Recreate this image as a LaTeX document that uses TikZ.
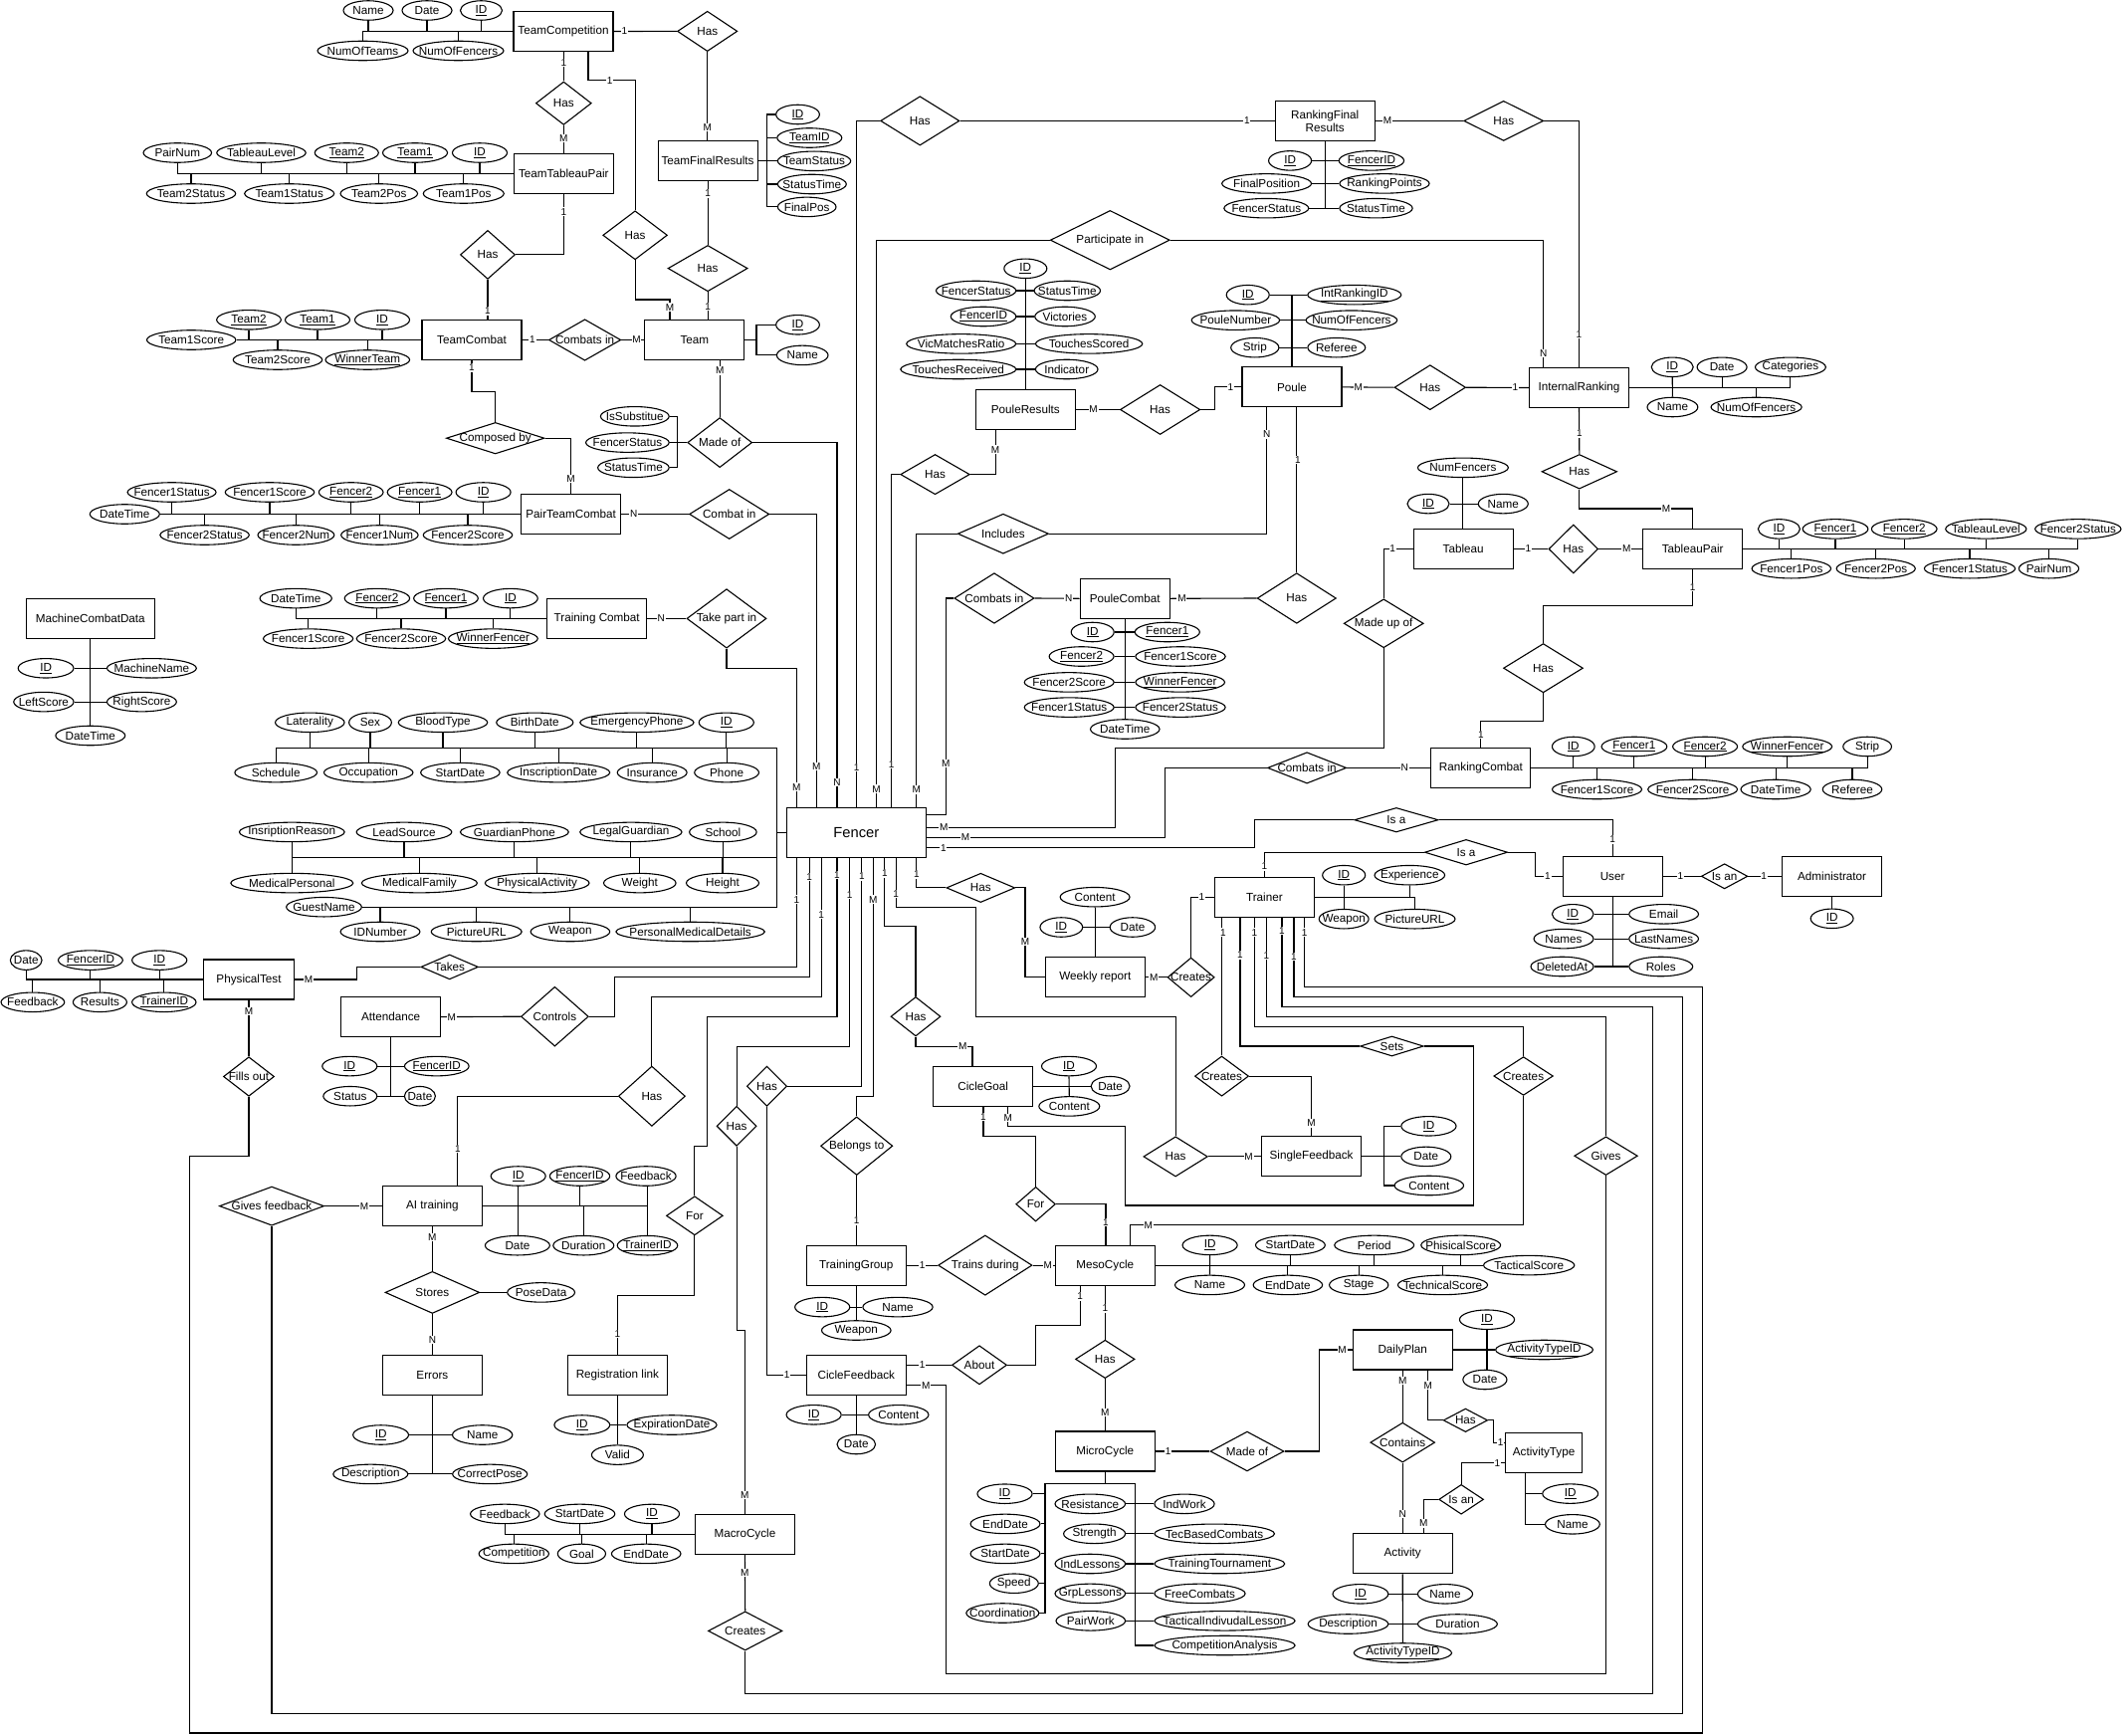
\documentclass[tikz,border=0pt]{standalone}
\usepackage{fontspec}
\setmainfont{Liberation Sans}
\usetikzlibrary{shapes.geometric}
\newcounter{cardn}
\tikzset{
 ent/.style={draw,rectangle,minimum width=100pt,minimum height=40pt,inner sep=0pt,font=\fontsize{11.7}{13}\selectfont,align=center,fill=white},
 attr/.style={draw,ellipse,minimum height=19.5pt,inner sep=0pt,fill=white},
 rel/.style={draw,diamond,inner sep=0pt,fill=white},
 lbl/.style={inner sep=0pt,font=\fontsize{11.7}{13}\selectfont},
 card/.style={fill=white,inner sep=0.8pt,font=\fontsize{10}{11}\selectfont},
}
\newcommand\ent[5][]{\node[ent,#1] (#2) at (#3,#4) {#5};}
\newcommand\att[5]{\node[attr,minimum width=#4pt] (#1) at (#2,#3) {};\node[lbl] (#1-t) at (#2,#3) {#5};}
\newcommand\rel[6]{\node[rel,minimum width=#4pt,minimum height=#5pt] (#1) at (#2,#3) {};\node[lbl] (#1-t) at (#2,#3) {#6};}
\newcommand\card[3]{\stepcounter{cardn}\node[card] (k\arabic{cardn}) at (#1,#2) {#3};}
\newcommand\ky[1]{\underline{#1}}
\newcommand\up[2]{\draw (#1.south) -- (#1.south |- #2);}
\newcommand\dn[2]{\draw (#1.north) -- (#1.north |- #2);}
\begin{document}
\begin{tikzpicture}[x=1pt,y=-1pt,line width=1.1pt]
\fill[white] (0,0) rectangle (2132,1744);
\useasboundingbox (0,0) rectangle (2132,1744);

% ---------- entities ----------
\ent{tcomp}{566}{31.5}{TeamCompetition}
\ent{ttp}{566.3}{174.4}{TeamTableauPair}
\ent{tcomb}{474}{341.5}{TeamCombat}
\ent{ptc}{573.6}{516.5}{PairTeamCombat}
\ent{tfr}{711.1}{161.8}{TeamFinalResults}
\ent{team}{697.9}{341.5}{Team}
\ent{trc}{599.7}{621.4}{Training Combat}
\ent[minimum width=128.5pt]{mcd}{90.8}{621.4}{MachineCombatData}
\ent[minimum width=140.5pt,minimum height=50pt,font=\fontsize{14.7}{16}\selectfont]{fencer}{860.3}{836.5}{Fencer}
\ent{rfr}{1331.2}{121.4}{RankingFinal\\Results}
\ent{pres}{1030.3}{411.5}{PouleResults}
\ent{poule}{1298}{388.9}{Poule}
\ent{ir}{1586.5}{389.5}{InternalRanking}
\ent{tab}{1470.2}{551.5}{Tableau}
\ent{tp}{1700.7}{551.5}{TableauPair}
\ent[minimum width=90.3pt]{pc}{1130.2}{601.3}{PouleCombat}
\ent{rc}{1487.9}{771.4}{RankingCombat}
\ent{user}{1620.1}{880.3}{User}
\ent{admin}{1840.6}{880.3}{Administrator}
\ent{trainer}{1270.4}{901.2}{Trainer}
\ent{wr}{1100.3}{981.8}{Weekly report}
\ent[minimum width=90.3pt]{ptest}{250}{984}{PhysicalTest}
\ent{attd}{392.6}{1021.6}{Attendance}
\ent{cg}{987.7}{1091.2}{CicleGoal}
\ent{sf}{1317.6}{1161.9}{SingleFeedback}
\ent{ai}{434.4}{1211.6}{AI training}
\ent{errors}{434.4}{1381.2}{Errors}
\ent{rl}{620.4}{1381.2}{Registration link}
\ent{tg}{860.3}{1271.1}{TrainingGroup}
\ent{meso}{1110.3}{1271.1}{MesoCycle}
\ent{cf}{860.3}{1381.2}{CicleFeedback}
\ent{macro}{748.4}{1541.3}{MacroCycle}
\ent{micro}{1110.3}{1458}{MicroCycle}
\ent{dp}{1409.2}{1356}{DailyPlan}
\ent[minimum width=76.4pt]{atype}{1551.1}{1459.2}{ActivityType}
\ent{act}{1409.2}{1560.9}{Activity}

% ---------- relationships ----------
\rel{r1}{710.7}{31.4}{60.3}{40.3}{Has}
\rel{r2}{566.3}{103.7}{55.8}{43.3}{Has}
\rel{r3}{638.1}{236.3}{64.7}{49}{Has}
\rel{r4}{711.1}{269.6}{80}{46.3}{Has}
\rel{r5}{490}{255.9}{55}{49}{Has}
\rel{r6}{587.6}{341.5}{72.3}{41.4}{Combats in}
\rel{r7}{497.7}{440.2}{98.6}{31.5}{Composed by}
\rel{r8}{723.2}{444.6}{64.8}{50}{Made of}
\rel{r9}{732.7}{516.5}{80.2}{50}{Combat in}
\rel{r10}{730}{621.4}{80}{59.4}{Take part in}
\rel{r11}{924.3}{121.4}{79.3}{49.3}{Has}
\rel{r12}{1115.3}{241.2}{120}{59.5}{Participate in}
\rel{r13}{1510.7}{121.4}{80}{40}{Has}
\rel{r14}{939.5}{476.6}{69.6}{40.2}{Has}
\rel{r15}{1165.6}{411.5}{80.3}{50}{Has}
\rel{r16}{1436.8}{389.2}{71.6}{45}{Has}
\rel{r17}{1007.9}{536.2}{91.3}{40}{Includes}
\rel{r18}{998.9}{601}{80.2}{50.6}{Combats in}
\rel{r19}{1302.8}{601}{79.2}{50.6}{Has}
\rel{r20}{1390.2}{626.3}{80}{48.9}{Made up of}
\rel{r21}{1586.8}{473.8}{75.6}{34.6}{Has}
\rel{r22}{1580.8}{551.5}{49.6}{49}{Has}
\rel{r23}{1550.5}{671.2}{79.9}{49.3}{Has}
\rel{r24}{1313.1}{771.4}{79.2}{31.3}{Combats in}
\rel{r25}{1402.9}{823.7}{84.3}{24.5}{Is a}
\rel{r26}{1473}{856.2}{83.3}{25.6}{Is a}
\rel{r27}{1732.6}{880.3}{46.6}{25.2}{Is an}
\rel{r28}{1196.6}{981.8}{47.1}{39.5}{Creates}
\rel{r29}{985.3}{891.9}{68.8}{29.3}{Has}
\rel{r30}{451.7}{971.4}{57.5}{24.9}{Takes}
\rel{r31}{557.4}{1021.2}{67.8}{59.8}{Controls}
\rel{r32}{250}{1081.5}{51}{39.5}{Fills out}
\rel{r33}{654.9}{1101.2}{67.1}{60.3}{Has}
\rel{r34}{770.5}{1091.2}{40.3}{40.3}{Has}
\rel{r35}{740.1}{1131.3}{40}{40}{Has}
\rel{r36}{697.9}{1221.3}{56.8}{39.1}{For}
\rel{r37}{920}{1021.2}{50}{39.5}{Has}
\rel{r38}{860.7}{1151.2}{72.3}{58.6}{Belongs to}
\rel{r39}{1040.6}{1209.7}{39.6}{34.6}{For}
\rel{r40}{1181.1}{1161.9}{64.4}{40.2}{Has}
\rel{r41}{1227.5}{1081.1}{54.1}{40.2}{Creates}
\rel{r42}{1398.4}{1051}{63.7}{20}{Sets}
\rel{r43}{1530.6}{1081}{59.6}{38.7}{Creates}
\rel{r44}{1613.5}{1161.2}{63.6}{38.7}{Gives}
\rel{r45}{273}{1211.6}{105.1}{39.1}{Gives feedback}
\rel{r46}{434.4}{1298.4}{94.7}{42.1}{Stores}
\rel{r47}{989.8}{1271.1}{94.4}{60.3}{Trains during}
\rel{r48}{984}{1371.3}{55.1}{39.1}{About}
\rel{r49}{1110.3}{1365.4}{59.5}{38.4}{Has}
\rel{r50}{1253}{1458}{74}{39.8}{Made of}
\rel{r51}{1409.2}{1449.1}{64.8}{39.9}{Contains}
\rel{r52}{1472.4}{1426.8}{44.4}{23.5}{Has}
\rel{r53}{1468.1}{1506.3}{44.8}{29.8}{Is an}
\rel{r54}{748.7}{1638.4}{74.4}{39.1}{Creates}

% ---------- attributes ----------
% TeamCompetition
\att{tc1}{370}{10.5}{50}{Name}
\att{tc2}{429}{10.5}{50}{Date}
\att{tc3}{483.5}{10.5}{42}{\ky{ID}}
\att{tc4}{364.5}{51}{91}{NumOfTeams}
\att{tc5}{460.5}{51}{91}{NumOfFencers}
\draw (tcomp.west) -- (tc4.north |- tcomp.west) -- (tc4.north);
\up{tc1}{tcomp.west}\up{tc2}{tcomp.west}\up{tc3}{tcomp.west}\dn{tc5}{tcomp.west}
% TeamTableauPair
\att{tt1}{178.3}{153.5}{68.5}{PairNum}
\att{tt2}{262.5}{153.5}{89.5}{TableauLevel}
\att{tt3}{348.3}{153.5}{64}{\ky{Team2}}
\att{tt4}{417}{153.5}{65}{\ky{Team1}}
\att{tt5}{482}{153.5}{55}{\ky{ID}}
\att{tt6}{192}{194.5}{89.5}{Team2Status}
\att{tt7}{290.7}{194.5}{90}{Team1Status}
\att{tt8}{380.8}{194.5}{77.5}{Team2Pos}
\att{tt9}{465.8}{194.5}{81}{Team1Pos}
\draw (ttp.west) -- (tt1.south |- ttp.west) -- (tt1.south);
\up{tt2}{ttp.west}\up{tt3}{ttp.west}\up{tt4}{ttp.west}\up{tt5}{ttp.west}
\dn{tt6}{ttp.west}\dn{tt7}{ttp.west}\dn{tt8}{ttp.west}\dn{tt9}{ttp.west}
% TeamCombat
\att{cb1}{250}{321.3}{64.7}{\ky{Team2}}
\att{cb2}{319}{321.3}{65}{\ky{Team1}}
\att{cb3}{384}{321.3}{55}{\ky{ID}}
\att{cb4}{192.2}{341.5}{89.5}{Team1Score}
\att{cb5}{279}{361.5}{89.5}{Team2Score}
\att{cb6}{369.3}{361.5}{84.6}{\ky{WinnerTeam}}
\draw (tcomb.west) -- (cb4.east);
\up{cb1}{tcomb.west}\up{cb2}{tcomb.west}\up{cb3}{tcomb.west}\dn{cb5}{tcomb.west}\dn{cb6}{tcomb.west}
% PairTeamCombat
\att{pa1}{172.6}{494.5}{89}{Fencer1Status}
\att{pa2}{271}{494.5}{89.5}{Fencer1Score}
\att{pa3}{352.7}{494.5}{64.7}{\ky{Fencer2}}
\att{pa4}{421.6}{494.5}{64.8}{\ky{Fencer1}}
\att{pa5}{485.6}{494.5}{55}{\ky{ID}}
\att{pa6}{125.3}{516.5}{70}{DateTime}
\att{pa7}{205.6}{537.5}{89.5}{Fencer2Status}
\att{pa8}{297.4}{537.5}{76.8}{Fencer2Num}
\att{pa9}{381.4}{537.5}{77.5}{Fencer1Num}
\att{pa10}{470}{537.5}{89.5}{Fencer2Score}
\draw (ptc.west) -- (pa6.east);
\up{pa1}{ptc.west}\up{pa2}{ptc.west}\up{pa3}{ptc.west}\up{pa4}{ptc.west}\up{pa5}{ptc.west}
\dn{pa7}{ptc.west}\dn{pa8}{ptc.west}\dn{pa9}{ptc.west}\dn{pa10}{ptc.west}
% TeamFinalResults
\att{tf1}{801.5}{115}{43.7}{\ky{ID}}
\att{tf2}{813.3}{138.5}{65}{\ky{TeamID}}
\att{tf3}{818}{161.8}{73.4}{TeamStatus}
\att{tf4}{815.8}{185}{69}{StatusTime}
\att{tf5}{810.7}{207.9}{58.6}{FinalPos}
\draw (tfr.east) -- (tf3.west);
\draw (tf1.west) -- (tf1.west -| 770.4,0) -- (tf5.west -| 770.4,0) -- (tf5.west);
\draw (tf2.west) -- (tf2.west -| 770.4,0);
\draw (tf4.west) -- (tf4.west -| 770.4,0);
% Team
\att{tm1}{801.5}{326.3}{43.7}{\ky{ID}}
\att{tm2}{806.2}{356.9}{51.6}{Name}
\draw (team.east) -- (team.east -| 760,0);
\draw (tm1.west) -- (tm1.west -| 760,0) -- (tm2.west -| 760,0) -- (tm2.west);
% Made of
\att{mo1}{637.8}{418.3}{68.8}{IsSubstitue}
\att{mo2}{630.4}{444.6}{83.7}{FencerStatus}
\att{mo3}{636.4}{469.8}{71.6}{StatusTime}
\draw (r8.west) -- (mo2.east);
\draw (mo1.east) -- (mo1.east -| 680.5,0) -- (mo3.east -| 680.5,0) -- (mo3.east);
% RankingFinalResults
\att{rf1}{1296.1}{161.4}{43}{\ky{ID}}
\att{rf2}{1377.9}{161.4}{65.4}{\ky{FencerID}}
\att{rf3}{1272.6}{184.4}{90}{FinalPosition}
\att{rf4}{1391}{184.4}{90.2}{RankingPoints}
\att{rf5}{1272.3}{209.2}{85}{FencerStatus}
\att{rf6}{1382.5}{209.2}{73.3}{StatusTime}
\draw (rfr.south) -- (rfr.south |- rf5.east);
\draw (rf1.east) -- (rf2.west); \draw (rf3.east) -- (rf4.west); \draw (rf5.east) -- (rf6.west);
% Poule
\att{po1}{1253.7}{296.2}{43}{\ky{ID}}
\att{po2}{1360.8}{296.2}{94}{\ky{IntRankingID}}
\att{po3}{1241.4}{321.7}{88.5}{PouleNumber}
\att{po4}{1357.9}{321.7}{91.6}{NumOfFencers}
\att{po5}{1260.8}{349.2}{48.2}{Strip}
\att{po6}{1342.8}{349.2}{57.9}{Referee}
\draw (poule.north) -- (poule.north |- po1.east);
\draw (po1.east) -- (po2.west); \draw (po3.east) -- (po4.west); \draw (po5.east) -- (po6.west);
% PouleResults
\att{pr0}{1030.3}{269.8}{43}{\ky{ID}}
\att{pr1}{980.6}{292}{80.3}{FencerStatus}
\att{pr2}{1072.3}{292}{66.5}{StatusTime}
\att{pr3}{988}{318}{65.5}{\ky{FencerID}}
\att{pr4}{1070}{318}{60.6}{Victories}
\att{pr5}{965.7}{345.4}{110}{VicMatchesRatio}
\att{pr6}{1094.1}{345.4}{107.4}{TouchesScored}
\att{pr7}{962.8}{371}{116}{TouchesReceived}
\att{pr8}{1071.7}{371}{62.6}{Indicator}
\draw (pr0.south) -- (pres.north);
\draw (pr1.east) -- (pr2.west); \draw (pr3.east) -- (pr4.west);
\draw (pr5.east) -- (pr6.west); \draw (pr7.east) -- (pr8.west);
% InternalRanking
\att{ir1}{1680.2}{368.8}{42}{\ky{ID}}
\att{ir2}{1730.1}{368.8}{50}{Date}
\att{ir3}{1798.9}{368.8}{70.9}{Categories}
\att{ir4}{1680.4}{409}{50.8}{Name}
\att{ir5}{1764.6}{409}{91.2}{NumOfFencers}
\draw (ir.east) -- (ir3.south |- ir.east) -- (ir3.south);
\draw (ir1.south) -- (ir4.north);
\up{ir2}{ir.east}\dn{ir5}{ir.east}
% Tableau
\att{ta1}{1469.9}{469.8}{91}{NumFencers}
\att{ta2}{1435}{506.1}{42}{\ky{ID}}
\att{ta3}{1510.3}{506.1}{50}{Name}
\draw (ta1.south) -- (ta1.south |- tab.north);
\draw (ta2.east) -- (ta3.west);
% TableauPair
\att{tq1}{1787.4}{531.4}{42}{\ky{ID}}
\att{tq2}{1844}{531.4}{65.7}{\ky{Fencer1}}
\att{tq3}{1913.2}{531.4}{65.7}{\ky{Fencer2}}
\att{tq4}{1995.3}{531.4}{81.2}{TableauLevel}
\att{tq5}{2087.8}{531.4}{86.4}{Fencer2Status}
\att{tq6}{1799.8}{571.2}{79.5}{Fencer1Pos}
\att{tq7}{1884.7}{571.2}{79.2}{Fencer2Pos}
\att{tq8}{1979}{571.2}{91.3}{Fencer1Status}
\att{tq9}{2058.5}{571.2}{60.2}{PairNum}
\draw (tp.east) -- (tq5.south |- tp.east) -- (tq5.south);
\up{tq1}{tp.east}\up{tq2}{tp.east}\up{tq3}{tp.east}\up{tq4}{tp.east}
\dn{tq6}{tp.east}\dn{tq7}{tp.east}\dn{tq8}{tp.east}\dn{tq9}{tp.east}
% RankingCombat
\att{rq1}{1580.8}{750}{42.7}{\ky{ID}}
\att{rq2}{1641.9}{750}{65.7}{\ky{Fencer1}}
\att{rq3}{1713.1}{750}{65}{\ky{Fencer2}}
\att{rq4}{1795.7}{750}{89.9}{\ky{WinnerFencer}}
\att{rq5}{1876.1}{750}{48.7}{Strip}
\att{rq6}{1604.5}{793}{90}{Fencer1Score}
\att{rq7}{1700.6}{793}{89.9}{Fencer2Score}
\att{rq8}{1784.1}{793}{70.2}{DateTime}
\att{rq9}{1861}{793}{59.5}{Referee}
\draw (rc.east) -- (rq5.south |- rc.east) -- (rq5.south);
\up{rq1}{rc.east}\up{rq2}{rc.east}\up{rq3}{rc.east}\up{rq4}{rc.east}
\dn{rq6}{rc.east}\dn{rq7}{rc.east}\dn{rq8}{rc.east}\dn{rq9}{rc.east}
% PouleCombat
\att{pq1}{1097.7}{635}{43}{\ky{ID}}
\att{pq2}{1172.8}{635}{65.1}{\ky{Fencer1}}
\att{pq3}{1086.6}{659.5}{65}{\ky{Fencer2}}
\att{pq4}{1186}{659.5}{90.3}{Fencer1Score}
\att{pq5}{1074.2}{685.4}{90}{Fencer2Score}
\att{pq6}{1185.7}{685.4}{89.6}{\ky{WinnerFencer}}
\att{pq7}{1074.2}{710.6}{90}{Fencer1Status}
\att{pq8}{1186}{710.6}{90.3}{Fencer2Status}
\att{pq9}{1130.3}{732.5}{69.5}{DateTime}
\draw (pc.south) -- (pc.south |- pq9.north);
\draw (pq1.east) -- (pq2.west); \draw (pq3.east) -- (pq4.west);
\draw (pq5.east) -- (pq6.west); \draw (pq7.east) -- (pq8.west);
% User
\att{us1}{1580.2}{918.3}{41.6}{\ky{ID}}
\att{us2}{1671.6}{918.3}{69.8}{Email}
\att{us3}{1571}{943.1}{59.9}{Names}
\att{us4}{1671.6}{943.1}{69.8}{LastNames}
\att{us5}{1569.5}{971}{63}{DeletedAt}
\att{us6}{1668.7}{971}{63.9}{Roles}
\draw (user.south) -- (user.south |- us5.east);
\draw (us1.east) -- (us2.west); \draw (us3.east) -- (us4.west); \draw (us5.east) -- (us6.west);
% Administrator
\att{ad1}{1840.6}{922.8}{42.9}{\ky{ID}}
\draw (admin.south) -- (ad1.north);
% Trainer
\att{tr1}{1350.2}{879.2}{43}{\ky{ID}}
\att{tr2}{1416.3}{879.2}{70.6}{Experience}
\att{tr3}{1350.2}{923.2}{49.9}{Weapon}
\att{tr4}{1421.5}{923.2}{81}{PictureURL}
\draw (trainer.east) -- (tr4.north |- trainer.east) -- (tr4.north);
\draw (tr1.south) -- (tr3.north);
\up{tr2}{trainer.east}
% Weekly report
\att{wr1}{1100.1}{901.2}{69.9}{Content}
\att{wr2}{1066.3}{931.5}{42.7}{\ky{ID}}
\att{wr3}{1137.9}{931.5}{45.5}{Date}
\draw (wr1.south) -- (wr1.south |- wr.north);
\draw (wr2.east) -- (wr3.west);
% MachineCombatData
\att{mc1}{46.1}{671.3}{55.8}{\ky{ID}}
\att{mc2}{152.4}{671.3}{89.9}{MachineName}
\att{mc3}{43.9}{705.1}{60.3}{LeftScore}
\att{mc4}{142.4}{705.1}{69.9}{RightScore}
\att{mc5}{90.8}{739}{69.9}{DateTime}
\draw (mcd.south) -- (mc5.north);
\draw (mc1.east) -- (mc2.west); \draw (mc3.east) -- (mc4.west);
% Training Combat
\att{tk1}{297.2}{601.1}{72.3}{DateTime}
\att{tk2}{378.9}{601.1}{65.4}{\ky{Fencer2}}
\att{tk3}{448}{601.1}{64.7}{\ky{Fencer1}}
\att{tk4}{512.9}{601.1}{54.7}{\ky{ID}}
\att{tk5}{309.6}{641.6}{90.2}{Fencer1Score}
\att{tk6}{403}{641.6}{89.5}{Fencer2Score}
\att{tk7}{495.4}{641.6}{89.8}{\ky{WinnerFencer}}
\draw (trc.west) -- (tk1.south |- trc.west) -- (tk1.south);
\up{tk2}{trc.west}\up{tk3}{trc.west}\up{tk4}{trc.west}
\dn{tk5}{trc.west}\dn{tk6}{trc.west}\dn{tk7}{trc.west}
% Fencer
\att{fa1}{311.3}{725.8}{69.5}{Laterality}
\att{fa2}{372}{725.8}{42.7}{Sex}
\att{fa3}{445}{725.8}{89.5}{BloodType}
\att{fa4}{537.3}{725.8}{77.1}{BirthDate}
\att{fa5}{639.9}{725.8}{114.3}{EmergencyPhone}
\att{fa6}{729.8}{725.8}{55.1}{\ky{ID}}
\att{fa7}{277.2}{776.1}{82.7}{Schedule}
\att{fa8}{370.2}{776.1}{89.5}{Occupation}
\att{fa9}{462.4}{776.1}{79.5}{StartDate}
\att{fa10}{561.2}{776.1}{103}{InscriptionDate}
\att{fa11}{655.2}{776.1}{69.9}{Insurance}
\att{fa12}{730.1}{776.1}{64.8}{Phone}
\att{fb1}{293.3}{835.9}{105.7}{InsriptionReason}
\att{fb2}{406}{835.9}{95.7}{LeadSource}
\att{fb3}{516.9}{835.9}{108.8}{GuardianPhone}
\att{fb4}{633.9}{835.9}{102.3}{LegalGuardian}
\att{fb5}{726.4}{835.9}{67.5}{School}
\att{fb6}{293.3}{887.1}{122.9}{MedicalPersonal}
\att{fb7}{421.4}{887.1}{116.1}{MedicalFamily}
\att{fb8}{539.7}{887.1}{104.7}{PhysicalActivity}
\att{fb9}{642.8}{887.1}{72.6}{Weight}
\att{fb10}{726}{887.1}{73}{Height}
\att{fc1}{325.5}{911.2}{75.7}{GuestName}
\att{fc2}{382}{936}{79.9}{IDNumber}
\att{fc3}{478.7}{936}{90.9}{PictureURL}
\att{fc4}{572.9}{936}{79.6}{Weapon}
\att{fc5}{693.6}{936}{149.4}{PersonalMedicalDetails}
\draw (fa7.north) |- (780.4,751.2) |- (fencer.west);
\draw (780.4,836.5) -- (780.4,911.2) -- (fc1.east);
\up{fa1}{0,751.2}\up{fa2}{0,751.2}\up{fa3}{0,751.2}\up{fa4}{0,751.2}\up{fa5}{0,751.2}\up{fa6}{0,751.2}
\dn{fa8}{0,751.2}\dn{fa9}{0,751.2}\dn{fa10}{0,751.2}\dn{fa11}{0,751.2}\dn{fa12}{0,751.2}
\draw (fb1.south) -- (fb6.north);
\draw (fb1.south |- 0,861.5) -- (780.4,861.5);
\up{fb2}{0,861.5}\up{fb3}{0,861.5}\up{fb4}{0,861.5}\up{fb5}{0,861.5}
\dn{fb7}{0,861.5}\dn{fb8}{0,861.5}\dn{fb9}{0,861.5}\dn{fb10}{0,861.5}
\dn{fc2}{fc1.east}\dn{fc3}{fc1.east}\dn{fc4}{fc1.east}\dn{fc5}{fc1.east}
% PhysicalTest
\att{ph1}{26.2}{964.6}{31.7}{Date}
\att{ph2}{90.9}{964.6}{64.8}{\ky{FencerID}}
\att{ph3}{160.2}{964.6}{55.1}{\ky{ID}}
\att{ph4}{32.9}{1006.8}{63.7}{Feedback}
\att{ph5}{100.4}{1006.8}{54}{Results}
\att{ph6}{164.8}{1006.8}{64.4}{\ky{TrainerID}}
\draw (ph1.south) |- (ptest.west);
\up{ph2}{ptest.west}\up{ph3}{ptest.west}
\dn{ph4}{ptest.west}\dn{ph5}{ptest.west}\dn{ph6}{ptest.west}
% Attendance
\att{an1}{351.3}{1071.1}{55.1}{\ky{ID}}
\att{an2}{438.8}{1071.1}{64.7}{\ky{FencerID}}
\att{an3}{351.8}{1101.2}{54}{Status}
\att{an4}{421.9}{1101.2}{31}{Date}
\draw (attd.south) -- (attd.south |- an3.east);
\draw (an1.east) -- (an2.west); \draw (an3.east) -- (an4.west);
% AI training
\att{ai1}{520.7}{1181.5}{55}{\ky{ID}}
\att{ai2}{582.5}{1181.5}{60.3}{\ky{FencerID}}
\att{ai3}{649}{1181.5}{60.3}{Feedback}
\att{ai4}{519.9}{1251.2}{65}{Date}
\att{ai5}{586.3}{1251.2}{61}{Duration}
\att{ai6}{650.5}{1251.2}{60.6}{\ky{TrainerID}}
\draw (ai.east) -- (ai6.north |- ai.east);
\draw (ai6.north) -- (ai6.north |- ai3.south);
\draw (ai1.south) -- (ai1.south |- ai4.north);
\up{ai2}{ai.east}\dn{ai5}{ai.east}
% Stores / Errors
\att{sd1}{543.6}{1298.4}{67.8}{PoseData}
\draw (r46.east) -- (sd1.west);
\att{er1}{382.6}{1441.5}{55.8}{\ky{ID}}
\att{er2}{484.7}{1441.5}{60.3}{Name}
\att{er3}{372.3}{1480.9}{75}{Description}
\att{er4}{492.2}{1480.9}{75.1}{CorrectPose}
\draw (errors.south) -- (errors.south |- er3.east);
\draw (er1.east) -- (er2.west); \draw (er3.east) -- (er4.west);
% Registration link
\att{rl1}{584.8}{1431.5}{55.8}{\ky{ID}}
\att{rl2}{675}{1431.5}{90.2}{ExpirationDate}
\att{rl3}{620.4}{1461.6}{52}{Valid}
\draw (rl.south) -- (rl3.north);
\draw (rl1.east) -- (rl2.west);
% TrainingGroup
\att{tg1}{826.2}{1313.1}{55.1}{\ky{ID}}
\att{tg2}{902}{1313.1}{70.3}{Name}
\att{tg3}{860.3}{1336.5}{69.6}{Weapon}
\draw (tg.south) -- (tg3.north);
\draw (tg1.east) -- (tg2.west);
% CicleFeedback
\att{cf1}{817.6}{1421.3}{55.1}{\ky{ID}}
\att{cf2}{902.8}{1421.3}{60.3}{Content}
\att{cf3}{860.3}{1451}{38.6}{Date}
\draw (cf.south) -- (cf3.north);
\draw (cf1.east) -- (cf2.west);
% CicleGoal
\att{cg1}{1074}{1071.1}{55}{\ky{ID}}
\att{cg2}{1115.6}{1091.2}{38.9}{Date}
\att{cg3}{1074.3}{1111.4}{61}{Content}
\draw (cg.east) -- (cg2.west);
\draw (cg1.south) -- (cg3.north);
% SingleFeedback
\att{sf1}{1435.4}{1131.3}{55.2}{\ky{ID}}
\att{sf2}{1432.8}{1161.9}{50}{Date}
\att{sf3}{1435.8}{1191}{69.5}{Content}
\draw (sf.east) -- (sf2.west);
\draw (sf1.west) -- (sf1.west -| 1390.6,0) -- (sf3.west -| 1390.6,0) -- (sf3.west);
% MesoCycle
\att{ms1}{1215.6}{1250.9}{55.1}{\ky{ID}}
\att{ms2}{1296.4}{1250.9}{69.9}{StartDate}
\att{ms3}{1380.7}{1250.9}{79.9}{Period}
\att{ms4}{1467.7}{1250.9}{79.9}{PhisicalScore}
\att{ms5}{1536.2}{1271.1}{91.3}{TacticalScore}
\att{ms6}{1215.5}{1290.9}{70}{Name}
\att{ms7}{1293.9}{1290.9}{69.5}{EndDate}
\att{ms8}{1365.2}{1290.9}{59.3}{Stage}
\att{ms9}{1449.5}{1290.9}{90.2}{TechnicalScore}
\draw (meso.east) -- (ms5.west);
\draw (ms1.south) -- (ms6.north);
\up{ms2}{meso.east}\up{ms3}{meso.east}\up{ms4}{meso.east}
\dn{ms7}{meso.east}\dn{ms8}{meso.east}\dn{ms9}{meso.east}
% DailyPlan
\att{dq1}{1494}{1325.7}{55.1}{\ky{ID}}
\att{dq2}{1551.5}{1356}{97.8}{\ky{ActivityTypeID}}
\att{dq3}{1491.9}{1386}{44.1}{Date}
\draw (dp.east) -- (dq2.west);
\draw (dq1.south) -- (dq1.south |- dq3.north);
% ActivityType
\att{aq1}{1577.7}{1500.6}{55.9}{\ky{ID}}
\att{aq2}{1579.9}{1531.3}{54.8}{Name}
\draw (atype.south -| 1532.5,0) |- (aq2.west);
\draw (aq1.west) -- (aq1.west -| 1532.5,0);
% Activity
\att{ac1}{1366.9}{1601.3}{55.8}{\ky{ID}}
\att{ac2}{1452}{1601.3}{55.1}{Name}
\att{ac3}{1354.5}{1631.5}{80.6}{Description}
\att{ac4}{1464.4}{1631.5}{79.9}{Duration}
\att{ac5}{1409.4}{1660.5}{98.2}{\ky{ActivityTypeID}}
\draw (act.south) -- (ac5.north);
\draw (ac1.east) -- (ac2.west); \draw (ac3.east) -- (ac4.west);
% MicroCycle
\att{ml1}{1009.5}{1500.7}{55.1}{\ky{ID}}
\att{ml2}{1010}{1530.9}{69.9}{EndDate}
\att{ml3}{1010}{1560.9}{69.9}{StartDate}
\att{ml4}{1018.8}{1590.7}{48.9}{Speed}
\att{ml5}{1007.3}{1620.5}{73}{Coordination}
\att{mm1}{1095.3}{1510.8}{70.6}{Resistance}
\att{mm2}{1099.6}{1540.8}{62}{Strength}
\att{mm3}{1095.3}{1571}{70.6}{IndLessons}
\att{mm4}{1095.3}{1600.9}{70.6}{GrpLessons}
\att{mm5}{1095.8}{1628.3}{69.6}{PairWork}
\att{mr1}{1190}{1510.8}{60.2}{IndWork}
\att{mr2}{1220.2}{1540.8}{120.5}{TecBasedCombats}
\att{mr3}{1225.3}{1571}{130.8}{TrainingTournament}
\att{mr4}{1205.5}{1600.9}{91.2}{FreeCombats}
\att{mr5}{1230.5}{1628.3}{141.2}{TacticalIndivudalLesson}
\att{mr6}{1230.5}{1653}{141.2}{CompetitionAnalysis}
\draw (micro.south) -- (micro.south |- 0,1490.7);
\draw (ml5.east) -- (ml5.east -| 1050,0) -- (1050,1490.7) -- (1140.2,1490.7) -- (mr6.west -| 1140.2,0) -- (mr6.west);
\foreach \n in {ml1,ml2,ml3,ml4} \draw (\n.east) -- (\n.east -| 1050,0);
\draw (mm1.east) -- (mr1.west); \draw (mm2.east) -- (mr2.west); \draw (mm3.east) -- (mr3.west);
\draw (mm4.east) -- (mr4.west); \draw (mm5.east) -- (mr5.west);
% MacroCycle
\att{mq1}{507.3}{1520.9}{69.5}{Feedback}
\att{mq2}{582.5}{1520.9}{70.6}{StartDate}
\att{mq3}{655}{1520.9}{55.1}{\ky{ID}}
\att{mq4}{516.3}{1560.9}{70.3}{Competition}
\att{mq5}{584.4}{1560.9}{48.2}{Goal}
\att{mq6}{649.2}{1560.9}{69.6}{EndDate}
\draw (mq1.south) |- (macro.west);
\up{mq2}{macro.west}\up{mq3}{macro.west}
\dn{mq4}{macro.west}\dn{mq5}{macro.west}\dn{mq6}{macro.west}

% ---------- relationship connectors ----------
\draw (tcomp.east) -- (r1.west);
\draw (r1.south) -- (r1.south |- tfr.north);
\draw (tcomp.south -| r2.north) -- (r2.north);
\draw (r2.south) -- (r2.south |- ttp.north);
\draw (tcomp.south -| 591,0) |- (r3.north |- 0,80.9) -- (r3.north);
\draw (r3.south) |- (673,301) -- (team.north -| 673,0);
\draw (ttp.south) |- (r5.east);
\draw (r5.south) -- (r5.south |- tcomb.north);
\draw (tcomb.east) -- (r6.west);
\draw (r6.east) -- (team.west);
\draw (tfr.south) -- (r4.north);
\draw (r4.south) -- (r4.south |- team.north);
\draw (tcomb.south) |- (r7.north |- 0,393.2) -- (r7.north);
\draw (r7.east) -| (ptc.north);
\draw (ptc.east) -- (r9.west);
\draw (r9.east) -| (fencer.north -| 820.3,0);
\draw (team.south -| r8.north) -- (r8.north);
\draw (r8.east) -| (fencer.north -| 841,0);
\draw (trc.east) -- (r10.west);
\draw (r10.south) |- (800.4,671.4) -- (fencer.north -| 800.4,0);
\draw (fencer.north -| 860.6,0) |- (r11.west);
\draw (r11.east) -- (rfr.west);
\draw (rfr.east) -- (r13.west);
\draw (r13.east) -| (ir.north);
\draw (fencer.north -| 880.6,0) |- (r12.west);
\draw (r12.east) -| (ir.north -| 1550.8,0);
\draw (fencer.north -| 895.7,0) |- (r14.west);
\draw (r14.east) -| (pres.south -| 1000.1,0);
\draw (pres.east) -- (r15.west);
\draw (r15.east) -- (1220.1,411.5) |- (poule.west);
\draw (poule.east) -- (r16.west);
\draw (r16.east) -- (ir.west);
\draw (fencer.north -| 920.9,0) |- (r17.west);
\draw (r17.east) -| (poule.south -| 1272.8,0);
\draw (fencer.east |- 0,818.9) -| (950.2,601) -- (r18.west);
\draw (r18.east) -- (pc.west);
\draw (pc.east) -- (r19.west);
\draw (r19.north) -- (r19.north |- poule.south);
\draw (fencer.east |- 0,831.4) -| (1120.3,751.2) -| (r20.south);
\draw (r20.north) |- (tab.west);
\draw (ir.south) -- (r21.north);
\draw (r21.south) |- (tp.north |- 0,511) -- (tp.north);
\draw (tab.east) -- (r22.west);
\draw (r22.east) -- (tp.west);
\draw (tp.south) |- (r23.north |- 0,608.5) -- (r23.north);
\draw (r23.south) |- (rc.north |- 0,724.1) -- (rc.north);
\draw (fencer.east |- 0,841.5) -| (1170.2,771.4) -- (r24.west);
\draw (r24.east) -- (rc.west);
\draw (fencer.east |- 0,851.7) -| (1260.4,823.7) -- (r25.west);
\draw (r25.east) -| (user.north);
\draw (r26.west) -| (trainer.north);
\draw (r26.east) -| (1542.9,880.3) -- (user.west);
\draw (user.east) -- (r27.west);
\draw (r27.east) -- (admin.west);
\draw (trainer.west) -| (r28.north);
\draw (r28.west) -- (wr.east);
\draw (fencer.south -| 920.9,0) |- (r29.west);
\draw (r29.east) -| (1030,981.8) -- (wr.west);
\draw (fencer.south -| 800.4,0) |- (r30.east);
\draw (r30.west) -| (358.2,984) -- (ptest.east);
\draw (fencer.south -| 813.1,0) |- (617.8,981.9) |- (r31.east);
\draw (r31.west) -- (attd.east);
\draw (ptest.south) -- (r32.north);
\draw (fencer.south -| 825.2,0) |- (r33.north |- 0,1001.5) -- (r33.north);
\draw (r33.west) -| (ai.north -| 459.8,0);
\draw (fencer.south -| 865.8,0) |- (r34.east);
\draw (r34.south) |- (cf.west);
\draw (fencer.south -| 853.7,0) |- (r35.north |- 0,1051.1) -- (r35.north);
\draw (r35.south) |- (macro.north |- 0,1336.9) -- (macro.north);
\draw (fencer.south -| 841,0) |- (710.8,1021.4) |- (r36.north |- 0,1151.2) -- (r36.north);
\draw (r36.south) |- (rl.north |- 0,1301.5) -- (rl.north);
\draw (fencer.south -| 888.9,0) |- (r37.north |- 0,930.7) -- (r37.north);
\draw (r37.south) |- (977,1051.1) -- (cg.north -| 977,0);
\draw (fencer.south -| 877.2,0) |- (r38.north |- 0,1101.2) -- (r38.north);
\draw (r38.south) -- (r38.south |- tg.north);
\draw (cg.south -| 988,0) |- (r39.north |- 0,1141.8) -- (r39.north);
\draw (r39.east) -| (meso.north -| 1111,0);
\draw (cg.south -| 1012.8,0) |- (1130.6,1131.3) |- (1480.2,1211) |- (r42.east);
\draw (r42.west) -| (trainer.south -| 1246,0);
\draw (fencer.south -| 900.2,0) |- (980.5,911.2) |- (r40.north |- 0,1021.4) -- (r40.north);
\draw (r40.east) -- (sf.west);
\draw (r41.north |- trainer.south) -- (r41.north);
\draw (r41.east) -| (sf.north);
\draw (trainer.south -| 1260.4,0) |- (r43.north |- 0,1031.6) -- (r43.north);
\draw (r43.south) |- (1135.8,1230.8) -- (meso.north -| 1135.8,0);
\draw (trainer.south -| 1272.5,0) |- (r44.north |- 0,1021.4) -- (r44.north);
\draw (r44.south) |- (950.9,1681.4) |- (cf.east |- 0,1391.6);
\draw (trainer.south -| 1288,0) |- (1660.2,1011.6) |- (r54.south |- 0,1701.1) -- (r54.south);
\draw (macro.south) -- (r54.north);
\draw (trainer.south -| 1300,0) |- (1690.3,1001.5) |- (r45.south |- 0,1721.2) -- (r45.south);
\draw (r45.east) -- (ai.west);
\draw (trainer.south -| 1310.7,0) |- (1710.3,991.3) |- (190.5,1741) |- (r32.south |- 0,1161.4) -- (r32.south);
\draw (ai.south) -- (r46.north);
\draw (r46.south) -- (errors.north);
\draw (tg.east) -- (r47.west);
\draw (r47.east) -- (meso.west);
\draw (cf.east |- 0,1371.3) -- (r48.west);
\draw (r48.east) -| (1040.4,1331.3) -| (meso.south -| 1085.1,0);
\draw (meso.south) -- (r49.north);
\draw (r49.south) -- (micro.north);
\draw (micro.east) -- (r50.west);
\draw (r50.east) -| (1325.2,1356) -- (dp.west);
\draw (dp.south) -- (r51.north);
\draw (r51.south) -- (act.north);
\draw (dp.south -| 1434.7,0) |- (r52.west);
\draw (r52.east) -| (1500.8,1449.4) -- (atype.west |- 0,1449.4);
\draw (atype.west |- 0,1469.8) -| (r53.north);
\draw (r53.west) -| (act.north -| 1430.2,0);

% ---------- cardinalities ----------
\card{627.5}{31.5}{1}\card{710.7}{128}{M}\card{566.3}{63.2}{1}\card{566.3}{139.2}{M}
\card{612.7}{80.9}{1}\card{673}{308.6}{M}\card{566.3}{212.6}{1}\card{490}{312.3}{1}
\card{535}{341.5}{1}\card{639.5}{341.5}{M}\card{711.1}{194.5}{1}\card{711.1}{307.8}{1}
\card{474}{369.5}{1}\card{573.6}{481}{M}\card{636.8}{516.5}{N}\card{820.3}{770}{M}
\card{723.3}{372.5}{M}\card{841}{786.2}{N}\card{664.3}{621.4}{N}\card{800.4}{790.7}{M}
\card{860.6}{771.2}{1}\card{1252.9}{121.4}{1}\card{1394}{121.4}{M}\card{1586.5}{336}{1}
\card{880.6}{792.6}{M}\card{1550.8}{354.8}{N}\card{895.7}{768.2}{1}\card{1000.1}{451.6}{M}
\card{1098.6}{411.5}{M}\card{1236.3}{388.9}{1}\card{1364.8}{389.2}{M}\card{1522.5}{389.5}{1}
\card{920.9}{793.4}{M}\card{1272.8}{436.5}{N}\card{950.2}{767}{M}\card{1073.8}{601}{N}
\card{1187.4}{601}{M}\card{1303.8}{462.1}{1}\card{948.4}{831.4}{M}\card{1399.2}{551.5}{1}
\card{1586.8}{435.4}{1}\card{1674}{511}{M}\card{1535.3}{551.5}{1}\card{1634.2}{551.5}{M}
\card{1700.7}{590}{1}\card{1487.9}{738}{1}\card{970.1}{841.5}{M}\card{1411.3}{771.4}{N}
\card{947.8}{851.7}{1}\card{1620.1}{843.4}{1}\card{1270.4}{870.5}{1}\card{1554.9}{880.3}{1}
\card{1688.5}{880.3}{1}\card{1772.2}{880.3}{1}\card{1207.4}{901.2}{1}\card{1159.2}{981.8}{M}
\card{920.9}{878.4}{1}\card{1030}{945.8}{M}\card{800.4}{903.6}{1}\card{310}{984}{M}
\card{813.1}{881}{1}\card{453.9}{1021.6}{M}\card{250}{1015.8}{M}\card{825.2}{918.7}{1}
\card{459.8}{1153.9}{1}\card{865.8}{880.3}{1}\card{790.7}{1381.2}{1}\card{853.7}{899.1}{1}
\card{748.4}{1501.9}{M}\card{841}{879.2}{1}\card{620.4}{1339.9}{1}\card{888.9}{877.3}{1}
\card{967.4}{1051.1}{M}\card{877.2}{903.6}{M}\card{860.7}{1226.3}{1}\card{988}{1121.9}{1}
\card{1111}{1228.1}{1}\card{1012.8}{1123}{M}\card{1246}{959.3}{1}\card{900.2}{898}{1}
\card{1254.6}{1161.9}{M}\card{1228.8}{936.7}{1}\card{1317.6}{1128.3}{M}\card{1260.4}{936.7}{1}
\card{1153.7}{1230.8}{M}\card{1272.5}{960}{1}\card{930.2}{1391.6}{M}\card{1288}{934.9}{1}
\card{748.4}{1580.1}{M}\card{1300}{961.2}{1}\card{366.1}{1211.6}{M}\card{1310.7}{936.7}{1}
\card{434.4}{1243}{M}\card{434.4}{1346.2}{N}\card{926.7}{1271.1}{1}\card{1052.8}{1271.1}{M}
\card{926.7}{1371.3}{1}\card{1085.1}{1302.3}{1}\card{1110.3}{1314.5}{1}\card{1110.3}{1418.8}{M}
\card{1173.7}{1458}{1}\card{1348.6}{1356}{M}\card{1409.2}{1387.2}{M}\card{1409.2}{1521.2}{N}
\card{1434.7}{1391.6}{M}\card{1507.7}{1449.4}{1}\card{1504.3}{1469.8}{1}\card{1430.2}{1530.5}{M}
\end{tikzpicture}
\end{document}
